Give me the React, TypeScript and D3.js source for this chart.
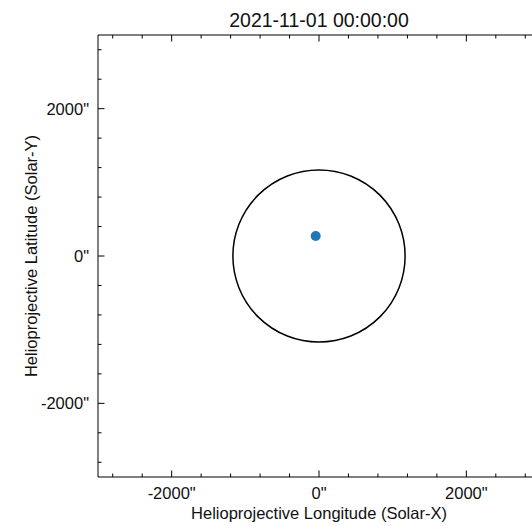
import React from "react";
import * as d3 from "d3";

// Observation time shown as the title
const titleText = "2021-11-01 00:00:00";

// Solar limb (arcsec), centred on the disk
const limbCenterX = [0];
const limbCenterY = [0];
const limbRadius = [1169];

// Marked point on the disk (arcsec)
const pointX = [-45];
const pointY = [271];

// Axis extent and ticks (arcsec)
const axisDomain = [-3000, 3000];
const majorTicks = [-2000, 0, 2000];
const minorTicks = [-2800, -2400, -1600, -1200, -800, -400, 400, 800, 1200, 1600, 2400, 2800];

const xLabel = "Helioprojective Longitude (Solar-X)";
const yLabel = "Helioprojective Latitude (Solar-Y)";

const W = 532;
const H = 526;
const left = 98;
const top = 35;
const size = 442;

export default function App() {
  const x = d3.scaleLinear().domain(axisDomain).range([left, left + size]);
  const y = d3.scaleLinear().domain(axisDomain).range([top + size, top]);
  const font = "'Liberation Sans', Arial, Helvetica, sans-serif";
  const fmt = (v: number) => `${v}"`;
  const majorLen = 6.5;
  const minorLen = 3.5;
  const bottom = top + size;
  const right = left + size;

  return (
    <svg
      width={W}
      height={H}
      style={{ position: "absolute", left: 0, top: 0, background: "#fff" }}
      fontFamily={font}
    >
      <rect x={0} y={0} width={W} height={H} fill="#fff" />
      <text x={x(0)} y={27} textAnchor="middle" fontSize={19.5} fill="#111">
        {titleText}
      </text>

      {/* limb */}
      {limbRadius.map((r, i) => (
        <circle
          key={`limb${i}`}
          cx={x(limbCenterX[i])}
          cy={y(limbCenterY[i])}
          r={x(r) - x(0)}
          fill="none"
          stroke="#000"
          strokeWidth={1.5}
        />
      ))}

      {pointX.map((px, i) => (
        <circle key={`pt${i}`} cx={x(px)} cy={y(pointY[i])} r={5} fill="#1f77b4" />
      ))}

      {/* spines */}
      <g stroke="#000" strokeWidth={1} fill="none">
        <line x1={left} y1={top} x2={right} y2={top} />
        <line x1={left} y1={bottom} x2={right} y2={bottom} />
        <line x1={left} y1={top} x2={left} y2={bottom} />
        <line x1={right} y1={top} x2={right} y2={bottom} />
      </g>

      {/* inward ticks on all sides */}
      <g stroke="#000" strokeWidth={1}>
        {majorTicks.map((t) => (
          <g key={`M${t}`}>
            <line x1={x(t)} x2={x(t)} y1={bottom} y2={bottom - majorLen} />
            <line x1={x(t)} x2={x(t)} y1={top} y2={top + majorLen} />
            <line y1={y(t)} y2={y(t)} x1={left} x2={left + majorLen} />
            <line y1={y(t)} y2={y(t)} x1={right} x2={right - majorLen} />
          </g>
        ))}
        {minorTicks.map((t) => (
          <g key={`m${t}`}>
            <line x1={x(t)} x2={x(t)} y1={bottom} y2={bottom - minorLen} />
            <line x1={x(t)} x2={x(t)} y1={top} y2={top + minorLen} />
            <line y1={y(t)} y2={y(t)} x1={left} x2={left + minorLen} />
            <line y1={y(t)} y2={y(t)} x1={right} x2={right - minorLen} />
          </g>
        ))}
      </g>

      {/* tick labels */}
      <g fontSize={16.5} fill="#111">
        {majorTicks.map((t) => (
          <text key={`xl${t}`} x={x(t)} y={bottom + 22} textAnchor="middle">
            {fmt(t)}
          </text>
        ))}
        {majorTicks.map((t) => (
          <text key={`yl${t}`} x={left - 9} y={y(t) + 6} textAnchor="end">
            {fmt(t)}
          </text>
        ))}
      </g>

      <text x={x(0)} y={519} textAnchor="middle" fontSize={16.5} fill="#111">
        {xLabel}
      </text>
      <text
        transform={`translate(37, ${y(0)}) rotate(-90)`}
        textAnchor="middle"
        fontSize={16.5}
        fill="#111"
      >
        {yLabel}
      </text>
    </svg>
  );
}
